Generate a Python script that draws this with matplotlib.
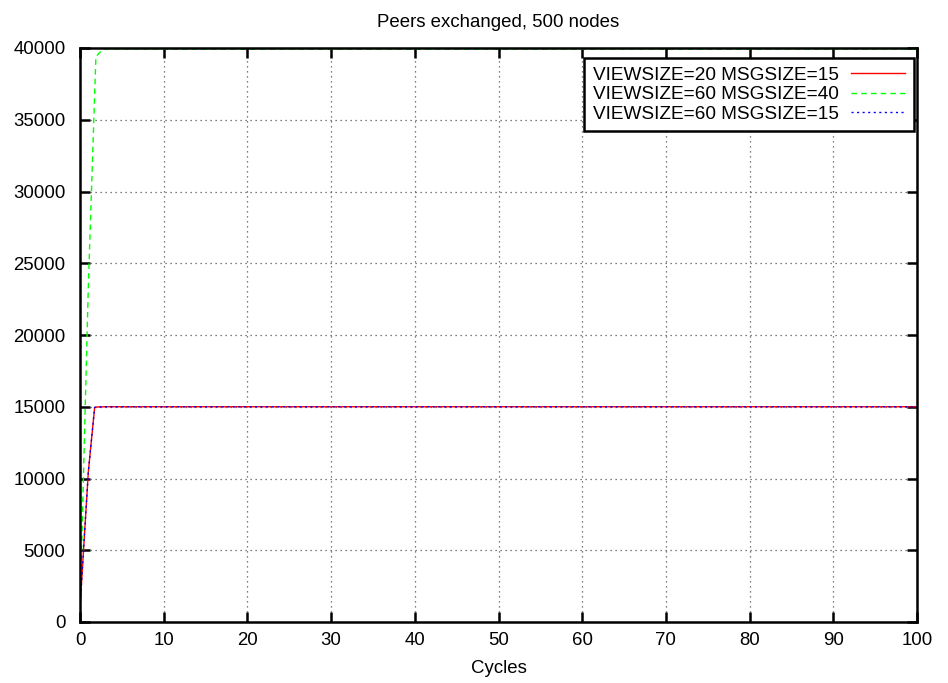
import matplotlib
matplotlib.use("Agg")
import matplotlib.pyplot as plt
import numpy as np

plt.rcParams['font.family'] = ['Liberation Sans', 'DejaVu Sans']

title = "Peers exchanged, 500 nodes"
xlabel = "Cycles"
labels = ["VIEWSIZE=20 MSGSIZE=15", "VIEWSIZE=60 MSGSIZE=40", "VIEWSIZE=60 MSGSIZE=15"]

x_a = [0, 1, 1.75, 2, 3, 10, 20, 30, 40, 50, 60, 70, 80, 90, 100]
y_a = [1000, 10500, 14950, 14980, 15000, 15000, 15000, 15000, 15000, 15000, 15000, 15000, 15000, 15000, 15000]

x_b = [0, 1, 1.9, 2.65, 3, 10, 20, 30, 40, 50, 60, 70, 80, 90, 100]
y_b = [900, 23500, 39400, 39860, 39920, 39920, 39920, 39920, 39920, 39920, 39920, 39920, 39920, 39920, 39920]

x_c = x_a
y_c = y_a

xticks = list(range(0, 101, 10))
yticks = list(range(0, 40001, 5000))

FS = 13.4
LFS = 13.7

fig = plt.figure(figsize=(9.48, 6.83), dpi=100)
ax = fig.add_axes([80/948, 1-622/683, (917-80)/948, (622-48)/683])

ax.plot(x_a, y_a, color='#ff0000', lw=1.0, linestyle='-', label=labels[0])
ax.plot(x_b, y_b, color='#00ff00', lw=1.0, linestyle=(0, (4, 3)), label=labels[1])
ax.plot(x_c, y_c, color='#0000ff', lw=1.0, linestyle=(0, (1.5, 2.5)), label=labels[2])

ax.set_xlim(0, 100)
ax.set_ylim(0, 40000)
ax.set_xticks(xticks)
ax.set_yticks(yticks)
ax.tick_params(direction='in', length=7, width=1.8, top=True, right=True, labelsize=FS)
ax.tick_params(axis='x', pad=7)
ax.tick_params(axis='y', pad=10.5)
ax.grid(True, color='#555555', linestyle=(0, (1, 3)), linewidth=0.9)
for s in ax.spines.values():
    s.set_linewidth(1.8)

ax.set_title(title, fontsize=FS, pad=15)
ax.set_xlabel(xlabel, fontsize=FS, labelpad=8)

leg = ax.legend(loc='upper right', bbox_to_anchor=((914-80)/837, (622-57.7)/574),
                markerfirst=False, fontsize=LFS, frameon=True,
                fancybox=False, edgecolor='black', framealpha=1, handlelength=2.85,
                borderaxespad=0, labelspacing=0.12, handletextpad=0.65, borderpad=0.45)
leg.get_frame().set_linewidth(1.8)

fig.savefig("out.png", dpi=100)
